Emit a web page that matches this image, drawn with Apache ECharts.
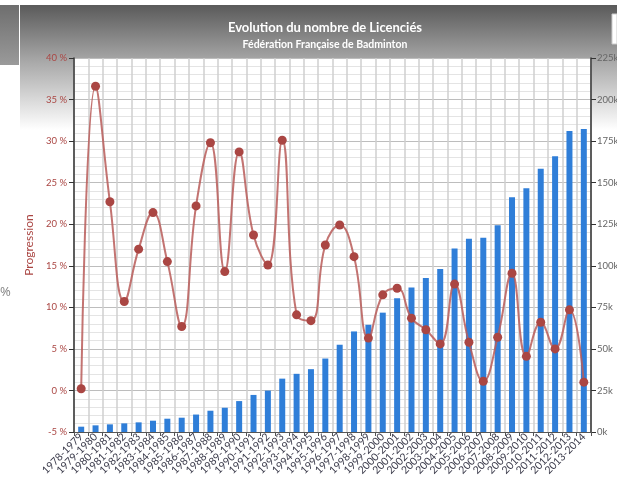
<!DOCTYPE html>
<html>
<head>
<meta charset="utf-8">
<script src="https://cdn.jsdelivr.net/npm/echarts@6/dist/echarts.min.js"></script>
<style>
html,body{margin:0;padding:0;background:#fff;}
#c{width:617px;height:477px;}
</style>
</head>
<body>
<div id="c"></div>
<script>
const categories = ['1978-1979','1979-1980','1980-1981','1981-1982','1982-1983','1983-1984','1984-1985','1985-1986','1986-1987','1987-1988','1988-1989','1989-1990','1990-1991','1991-1992','1992-1993','1993-1994','1994-1995','1995-1996','1996-1997','1997-1998','1998-1999','1999-2000','2000-2001','2001-2002','2002-2003','2003-2004','2004-2005','2005-2006','2006-2007','2007-2008','2008-2009','2009-2010','2010-2011','2011-2012','2012-2013','2013-2014'];
// licencies, in thousands
const licencies = [3.2,4.0,4.6,5.2,5.8,6.8,8.0,8.6,10.5,12.8,14.6,18.6,22.3,24.9,32.1,35.0,37.8,44.2,52.5,60.5,64.5,71.8,80.4,86.9,92.7,98.1,110.4,116.2,116.8,124.4,141.3,146.6,158.4,165.9,181.1,182.3];
// progression, in percent
const progression = [0.2,36.6,22.7,10.7,17.0,21.4,15.5,7.7,22.2,29.8,14.3,28.7,18.7,15.1,30.1,9.1,8.4,17.5,19.9,16.1,6.3,11.5,12.3,8.7,7.3,5.6,12.8,5.8,1.1,6.4,14.1,4.1,8.2,5.0,9.7,1.0];

const chart = echarts.init(document.getElementById('c'), null, {renderer:'canvas'});
const FONT = 'Lato';
chart.setOption({
  animation:false,
  backgroundColor:'#ffffff',
  textStyle:{fontFamily:FONT},
  graphic:[
    {type:'rect', z:-10, shape:{x:0,y:5,width:19,height:60},
     style:{fill:new echarts.graphic.LinearGradient(0,0,0,1,[{offset:0,color:'#6e6e6e'},{offset:1,color:'#9a9a9a'}])}},
    {type:'rect', z:-10, shape:{x:20,y:5,width:597,height:125},
     style:{fill:new echarts.graphic.LinearGradient(0,0,0,1,[{offset:0,color:'#5a5a5a'},{offset:0.45,color:'#a8a8a8'},{offset:1,color:'#ffffff'}])}},
    {type:'rect', z:-5, shape:{x:612,y:14,width:5,height:30}, style:{fill:'#ffffff',stroke:'#cccccc',lineWidth:1}},
    {type:'text', z:-5, left:0, top:286, style:{text:'%', font:'13px "Noto Sans"', fill:'#8a8a8a'}}
  ],
  title:{
    text:'Evolution du nombre de Licenciés',
    subtext:'Fédération Française de Badminton',
    left:320, textAlign:'center', top:16, itemGap:5,
    textStyle:{color:'#ffffff', fontSize:13, fontWeight:'bold', fontFamily:FONT},
    subtextStyle:{color:'#ffffff', fontSize:10.5, fontWeight:'bold', fontFamily:FONT}
  },
  grid:{left:74, right:26, top:58, bottom:45, show:true, backgroundColor:'#ffffff', borderWidth:0,
        containLabel:false, outerBoundsMode:'none'},
  xAxis:{
    type:'category', data:categories, boundaryGap:true,
    axisLine:{show:true, onZero:false, lineStyle:{color:'#555', width:1}},
    axisTick:{show:true, interval:0, length:4, lineStyle:{color:'#555'}},
    axisLabel:{interval:0, rotate:45, fontSize:10.5, color:'#3a3a4a', margin:3, fontFamily:FONT},
    splitLine:{show:true, interval:0, lineStyle:{color:'#cfcfcf', width:1.5}}
  },
  yAxis:[
    {
      type:'value', position:'left', min:-5, max:40, interval:5,
      name:'Progression', nameLocation:'middle', nameRotate:90, nameGap:29,
      nameTextStyle:{color:'#AA4643', fontSize:12, fontFamily:FONT},
      axisLine:{show:true, lineStyle:{color:'#333', width:1.5}},
      axisTick:{show:true, length:5, lineStyle:{color:'#333'}},
      axisLabel:{formatter:'{value} %', color:'#AA4643', fontSize:9.5, margin:7, fontFamily:FONT},
      splitLine:{show:true, lineStyle:{color:'#bdbdbd', width:1}},
      minorTick:{show:false, splitNumber:5},
      minorSplitLine:{show:true, lineStyle:{color:'#e4e4e4', width:1}}
    },
    {
      type:'value', position:'right', min:0, max:225, interval:25,
      axisLine:{show:true, lineStyle:{color:'#333', width:1.5}},
      axisTick:{show:true, length:5, lineStyle:{color:'#333'}},
      axisLabel:{formatter:'{value}k', color:'#666', fontSize:9.5, margin:6, fontFamily:FONT},
      splitLine:{show:false}
    }
  ],
  series:[
    {
      type:'bar', yAxisIndex:1, data:licencies, barWidth:6,
      itemStyle:{color:'#2f7ed8'}, z:2
    },
    {
      type:'line', yAxisIndex:0, data:progression, smooth:0.45,
      symbol:'circle', symbolSize:9,
      lineStyle:{color:'#b85c59', width:2, opacity:0.85},
      itemStyle:{color:'#AA4643'}, z:5
    }
  ]
});
</script>
</body>
</html>
